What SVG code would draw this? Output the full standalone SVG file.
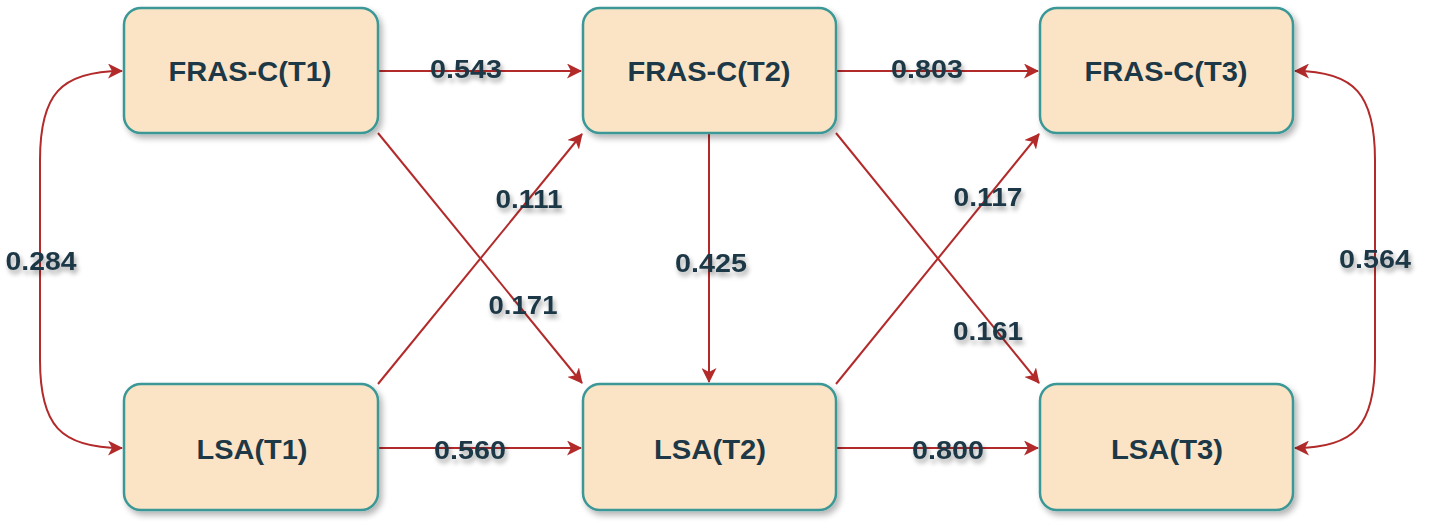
<svg xmlns="http://www.w3.org/2000/svg" width="1429" height="531" viewBox="0 0 1429 531">
<style>
.box{fill:#fbe4c6;stroke:#3a9896;stroke-width:2.5;filter:url(#sh)}
.nt{font-family:"Liberation Sans",Arial,sans-serif;font-weight:bold;font-size:28px;fill:#1d3846;text-anchor:middle}
.lb{font-family:"Liberation Sans",Arial,sans-serif;font-weight:bold;font-size:26px;fill:#1d3846;text-anchor:middle;filter:url(#tsh)}
.e{fill:none;stroke:#b32a2a;stroke-width:2;marker-end:url(#ah)}
.bi{marker-start:url(#ah)}
</style>
<defs>
<filter id="sh" x="-10%" y="-10%" width="125%" height="130%">
<feGaussianBlur in="SourceAlpha" stdDeviation="3"/>
<feOffset dx="3" dy="4" result="b"/>
<feComponentTransfer><feFuncA type="linear" slope="0.3"/></feComponentTransfer>
<feMerge><feMergeNode/><feMergeNode in="SourceGraphic"/></feMerge>
</filter>
<filter id="tsh" x="-20%" y="-30%" width="150%" height="180%">
<feGaussianBlur in="SourceAlpha" stdDeviation="2.5"/>
<feOffset dx="2" dy="4"/>
<feComponentTransfer><feFuncA type="linear" slope="0.35"/></feComponentTransfer>
<feMerge><feMergeNode/><feMergeNode in="SourceGraphic"/></feMerge>
</filter>
<marker id="ah" markerUnits="userSpaceOnUse" markerWidth="17" markerHeight="15" refX="14" refY="7.5" orient="auto-start-reverse">
<path d="M0,0 L15,7.5 L0,15 L4,7.5 Z" fill="#b32a2a"/>
</marker>
</defs>
<g id="connectors">
<path class="e" d="M378,71 L581,71"/>
<path class="e" d="M836,71 L1038,71"/>
<path class="e" d="M378,448 L581,448"/>
<path class="e" d="M836,448 L1038,448"/>
<path class="e" d="M378,133 L582,383"/>
<path class="e" d="M378,384 L582,134"/>
<path class="e" d="M709,133 L709,382"/>
<path class="e" d="M836,133 L1039,383"/>
<path class="e" d="M836,384 L1039,134"/>
<path class="e bi" d="M122,71 C60,71 40,95 40,160 L40,360 C40,425 60,448 122,448"/>
<path class="e bi" d="M1295,71 C1355,71 1375,95 1375,160 L1375,360 C1375,425 1355,448 1295,448"/>
</g>
<g id="labels">
<text class="lb" x="466" y="78" textLength="72" lengthAdjust="spacingAndGlyphs">0.543</text>
<text class="lb" x="927" y="78" textLength="72" lengthAdjust="spacingAndGlyphs">0.803</text>
<text class="lb" x="470" y="459" textLength="72" lengthAdjust="spacingAndGlyphs">0.560</text>
<text class="lb" x="948" y="459" textLength="72" lengthAdjust="spacingAndGlyphs">0.800</text>
<text class="lb" x="529" y="208" textLength="67" lengthAdjust="spacingAndGlyphs">0.111</text>
<text class="lb" x="523" y="314" textLength="69" lengthAdjust="spacingAndGlyphs">0.171</text>
<text class="lb" x="711" y="272" textLength="72" lengthAdjust="spacingAndGlyphs">0.425</text>
<text class="lb" x="988" y="206" textLength="69" lengthAdjust="spacingAndGlyphs">0.117</text>
<text class="lb" x="988" y="340" textLength="70" lengthAdjust="spacingAndGlyphs">0.161</text>
<text class="lb" x="1375" y="268" textLength="72" lengthAdjust="spacingAndGlyphs">0.564</text>
<text class="lb" x="41" y="270" textLength="71" lengthAdjust="spacingAndGlyphs">0.284</text>
</g>
<g id="fras-t1"><rect class="box" x="124" y="8" width="254" height="125" rx="17"/><text class="nt" x="250" y="81" textLength="163" lengthAdjust="spacingAndGlyphs">FRAS-C(T1)</text></g>
<g id="fras-t2"><rect class="box" x="583" y="8" width="253" height="125" rx="17"/><text class="nt" x="709" y="81" textLength="163" lengthAdjust="spacingAndGlyphs">FRAS-C(T2)</text></g>
<g id="fras-t3"><rect class="box" x="1040" y="8" width="253" height="125" rx="17"/><text class="nt" x="1166" y="81" textLength="163" lengthAdjust="spacingAndGlyphs">FRAS-C(T3)</text></g>
<g id="lsa-t1"><rect class="box" x="124" y="384" width="254" height="126" rx="17"/><text class="nt" x="252" y="459" textLength="111" lengthAdjust="spacingAndGlyphs">LSA(T1)</text></g>
<g id="lsa-t2"><rect class="box" x="583" y="384" width="253" height="126" rx="17"/><text class="nt" x="710" y="459" textLength="112" lengthAdjust="spacingAndGlyphs">LSA(T2)</text></g>
<g id="lsa-t3"><rect class="box" x="1040" y="384" width="253" height="126" rx="17"/><text class="nt" x="1167" y="459" textLength="112" lengthAdjust="spacingAndGlyphs">LSA(T3)</text></g>
</svg>
